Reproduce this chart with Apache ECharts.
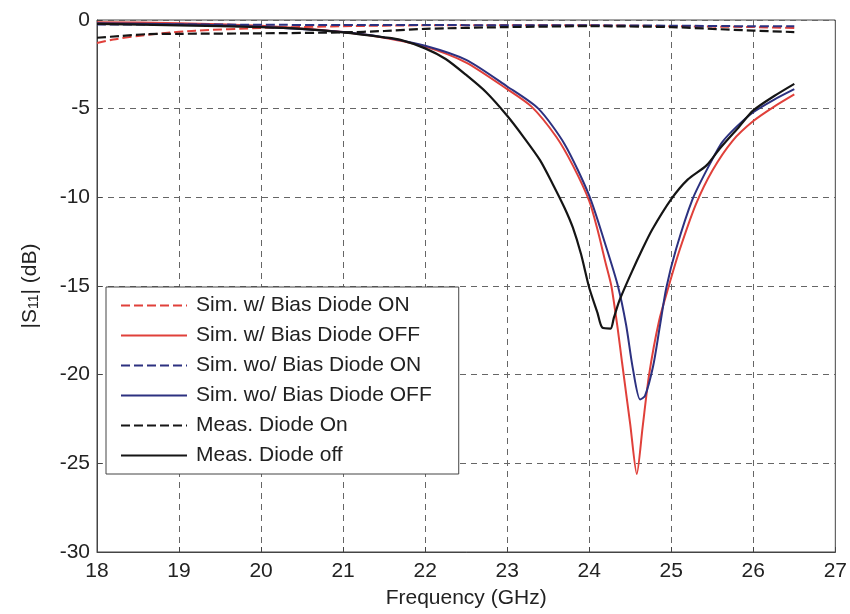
<!DOCTYPE html>
<html><head><meta charset="utf-8">
<script src="https://cdn.jsdelivr.net/npm/echarts@6/dist/echarts.min.js"></script>
<style>html,body{margin:0;padding:0;background:#fff}#c{width:850px;height:614px}</style>
</head><body><div id="c"></div>
<script>
// Frequency (GHz) / |S11| (dB) values
var simWOnF = [18, 18.2, 18.5, 18.8, 19.2, 20, 21, 22, 23, 24, 25, 26, 26.5];
var simWOnS = [-1.3, -1.1, -0.9, -0.75, -0.6, -0.45, -0.35, -0.3, -0.3, -0.3, -0.35, -0.4, -0.45];

var simWOffF = [18, 19, 20, 20.5, 21, 21.5, 22, 22.5, 23, 23.3, 23.6, 23.8, 24.0, 24.1, 24.2, 24.27, 24.35, 24.4, 24.5, 24.58, 24.65, 24.73, 24.85, 24.97, 25.1, 25.3, 25.5, 25.75, 26.0, 26.25, 26.5];
var simWOffS = [-0.12, -0.18, -0.33, -0.48, -0.68, -1.0, -1.5, -2.4, -3.9, -4.9, -6.6, -8.2, -10.2, -11.8, -13.7, -15.0, -17.5, -19.3, -22.8, -25.6, -23.0, -20.0, -17.0, -15.0, -13.0, -10.4, -8.5, -6.8, -5.7, -4.9, -4.2];

var simWoOnF = [18, 19, 20, 21, 22, 23, 24, 25, 26, 26.5];
var simWoOnS = [-0.25, -0.25, -0.27, -0.28, -0.28, -0.3, -0.3, -0.32, -0.35, -0.35];

var simWoOffF = [18, 19, 20, 21, 21.5, 22, 22.5, 23, 23.38, 23.7, 24.0, 24.2, 24.35, 24.45, 24.53, 24.62, 24.68, 24.78, 24.86, 24.94, 25.06, 25.26, 25.45, 25.62, 25.8, 26.0, 26.25, 26.5];
var simWoOffS = [-0.18, -0.24, -0.38, -0.68, -0.98, -1.45, -2.25, -3.75, -5.0, -7.0, -9.9, -12.7, -15.0, -17.2, -19.6, -21.4, -21.2, -19.5, -17.3, -15.1, -12.9, -10.1, -8.3, -6.9, -6.0, -5.2, -4.5, -3.9];

var measOnF = [18, 18.3, 18.6, 19, 20, 21, 21.5, 22, 23, 24, 25, 25.5, 26, 26.5];
var measOnS = [-1.0, -0.9, -0.8, -0.78, -0.75, -0.7, -0.62, -0.5, -0.4, -0.35, -0.4, -0.5, -0.6, -0.68];

var measOffF = [18, 19, 20, 20.5, 21, 21.5, 21.7, 22, 22.25, 22.5, 22.75, 23, 23.2, 23.4, 23.55, 23.7, 23.8, 23.9, 24.0, 24.1, 24.16, 24.26, 24.3, 24.37, 24.5, 24.65, 24.77, 25.0, 25.2, 25.43, 25.6, 25.83, 26.0, 26.25, 26.5];
var measOffS = [-0.22, -0.3, -0.4, -0.5, -0.7, -0.98, -1.12, -1.6, -2.2, -3.1, -4.1, -5.4, -6.6, -7.9, -9.2, -10.6, -11.7, -13.2, -15.1, -16.5, -17.35, -17.4, -16.8, -15.8, -14.4, -12.9, -11.8, -10.1, -9.0, -8.2, -7.2, -6.0, -5.1, -4.3, -3.6];

var seriesNames = ['Sim. w/ Bias Diode ON', 'Sim. w/ Bias Diode OFF', 'Sim. wo/ Bias Diode ON', 'Sim. wo/ Bias Diode OFF', 'Meas. Diode On', 'Meas. Diode off'];

function pairs(f, s) { return f.map(function (x, i) { return [x, s[i]]; }); }

var FONT = '"Liberation Sans", Arial, sans-serif';
var RED = '#e0403a', BLUE = '#2c3180', BLACK = '#151515';
var DASH = [9, 4];

function mk(name, f, s, color, dashed, w) {
  return {
    name: name, type: 'line', data: pairs(f, s),
    symbol: 'none', showSymbol: false,
    smooth: 0.25,
    lineStyle: { color: color, width: w, type: dashed ? DASH : 'solid' },
    itemStyle: { color: color }, animation: false
  };
}

var chart = echarts.init(document.getElementById('c'), null, { renderer: 'canvas' });
chart.setOption({
  backgroundColor: '#fff',
  animation: false,
  textStyle: { fontFamily: FONT },
  grid: { left: 97, right: 14, top: 20, bottom: 58, show: true, borderColor: '#444', borderWidth: 1, backgroundColor: 'transparent' },
  legend: {
    orient: 'vertical', left: 106, top: 287,
    backgroundColor: '#fff', borderColor: '#444', borderWidth: 1, borderRadius: 0,
    padding: [8, 27, 8, 14], itemGap: 9, itemWidth: 66, itemHeight: 21,
    itemStyle: { opacity: 0 },
    textStyle: { fontSize: 21, color: '#222', fontFamily: FONT, padding: [0, 0, 0, 4] },
    data: seriesNames
  },
  xAxis: {
    type: 'value', min: 18, max: 27, interval: 1,
    name: 'Frequency (GHz)', nameLocation: 'middle', nameGap: 36,
    nameTextStyle: { fontSize: 21, color: '#222', fontFamily: FONT },
    axisLine: { show: true, onZero: false, lineStyle: { color: '#444' } },
    axisTick: { show: true, inside: true, length: 5, lineStyle: { color: '#444' } },
    axisLabel: { fontSize: 21, color: '#222', margin: 9, fontFamily: FONT },
    splitLine: { show: true, lineStyle: { color: '#666', type: [6, 5], width: 1 } }
  },
  yAxis: {
    type: 'value', min: -30, max: 0, interval: 5,
    name: '|S{sub|11}| (dB)', nameLocation: 'middle', nameGap: 56, nameRotate: 90,
    nameTextStyle: { fontSize: 21, color: '#222', fontFamily: FONT,
      rich: { sub: { fontSize: 14, verticalAlign: 'bottom', padding: [8, 0, 0, 0], fontFamily: FONT, color: '#222' } } },
    axisLine: { show: true, lineStyle: { color: '#444' } },
    axisTick: { show: true, inside: true, length: 5, lineStyle: { color: '#444' } },
    axisLabel: { fontSize: 21, color: '#222', margin: 7, fontFamily: FONT },
    splitLine: { show: true, lineStyle: { color: '#666', type: [6, 5], width: 1 } }
  },
  series: [
    mk(seriesNames[0], simWOnF, simWOnS, RED, true, 2),
    mk(seriesNames[1], simWOffF, simWOffS, RED, false, 2),
    mk(seriesNames[2], simWoOnF, simWoOnS, BLUE, true, 2),
    mk(seriesNames[3], simWoOffF, simWoOffS, BLUE, false, 2),
    mk(seriesNames[4], measOnF, measOnS, BLACK, true, 2.2),
    mk(seriesNames[5], measOffF, measOffS, BLACK, false, 2.2)
  ]
});
</script></body></html>
